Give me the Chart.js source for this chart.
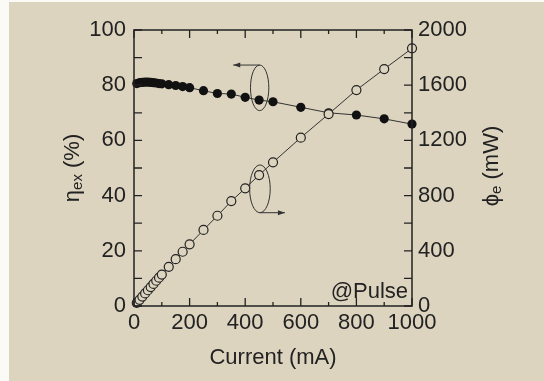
<!DOCTYPE html>
<html><head><meta charset="utf-8">
<script src="https://cdn.jsdelivr.net/npm/chart.js@4/dist/chart.umd.min.js"></script>
<style>html,body{margin:0;padding:0;background:#fff;}#wrap{position:absolute;left:0;top:0;width:544px;height:381px;}</style>
</head><body><div id="wrap"><canvas id="c" width="544" height="381"></canvas></div>
<script>
// ---- data ----
const currents = [10,20,30,40,50,60,70,80,90,100,125,150,175,200,250,300,350,400,450,500,600,700,800,900,1000];
const efficiency = [80.6,80.9,81.0,81.1,81.1,81.0,80.9,80.8,80.6,80.5,80.2,79.9,79.5,79.1,78.0,77.0,76.8,75.6,74.6,74.0,72.0,70.0,69.2,67.8,65.9];
const powerMW = [22,45,68,91,114,137,160,183,205,228,284,339,393,447,551,654,760,853,949,1041,1220,1391,1565,1717,1867];
const xTicks = [0,200,400,600,800,1000];
const leftTicks = [0,20,40,60,80,100];
const rightTicks = [0,400,800,1200,1600,2000];
const xMinorTicks = [100,300,500,700,900];
const leftMinorTicks = [10,30,50,70,90];
const noteText = '@Pulse';
// annotation guides (data units: mA, % on left scale)
const guideLeft = {x:452, yLow:70.8, yHigh:87.3, halfW:33, arrowTo:357};
const guideRight = {x:453, yLow:33.8, yHigh:51.1, halfW:37, arrowTo:543};

const BG = '#dcd4bf';
const INK = '#222';
const FONT = '"Liberation Sans", Arial, sans-serif';

function drawTitle(ctx, cx, cy, parts){
  ctx.save();
  ctx.translate(cx, cy);
  ctx.rotate(-Math.PI/2);
  let w = 0;
  parts.forEach(p => { ctx.font = p.size + 'px ' + FONT; p.w = ctx.measureText(p.t).width; w += p.w; });
  let x = -w/2;
  ctx.fillStyle = INK;
  ctx.textBaseline = 'middle';
  ctx.textAlign = 'left';
  parts.forEach(p => { ctx.font = p.size + 'px ' + FONT; ctx.fillText(p.t, x, p.dy); x += p.w; });
  ctx.restore();
}

const deco = {
  id: 'deco',
  beforeDraw(chart){
    const ctx = chart.ctx;
    ctx.save();
    ctx.fillStyle = '#fbfaf7';
    ctx.fillRect(0,0,chart.width,chart.height);
    ctx.fillStyle = BG;
    ctx.fillRect(9,2,chart.width-9,chart.height-2);
    ctx.restore();
  },
  afterDraw(chart){
    const ctx = chart.ctx;
    const a = chart.chartArea;
    const xs = chart.scales.x, yl = chart.scales.y;
    ctx.save();
    ctx.strokeStyle = INK;
    ctx.lineWidth = 1.5;
    ctx.strokeRect(a.left, a.top, a.right - a.left, a.bottom - a.top);
    ctx.lineWidth = 1.3;
    ctx.beginPath();
    const tick = (vals, len, horiz) => {
      vals.forEach(v => {
        if (horiz) {
          const px = xs.getPixelForValue(v);
          ctx.moveTo(px, a.bottom); ctx.lineTo(px, a.bottom - len);
          ctx.moveTo(px, a.top); ctx.lineTo(px, a.top + len);
        } else {
          const py = yl.getPixelForValue(v);
          ctx.moveTo(a.left, py); ctx.lineTo(a.left + len, py);
          ctx.moveTo(a.right, py); ctx.lineTo(a.right - len, py);
        }
      });
    };
    tick(xTicks, 8, true); tick(xMinorTicks, 4, true);
    tick(leftTicks, 8, false); tick(leftMinorTicks, 8, false);
    ctx.stroke();

    // guides
    ctx.lineWidth = 1;
    ctx.strokeStyle = '#333';
    ctx.fillStyle = '#333';
    [[guideLeft, -1], [guideRight, 1]].forEach(([g, dir]) => {
      const cx = xs.getPixelForValue(g.x);
      const yT = yl.getPixelForValue(g.yHigh), yB = yl.getPixelForValue(g.yLow);
      const rx = Math.abs(xs.getPixelForValue(g.x + g.halfW) - cx);
      ctx.beginPath();
      ctx.ellipse(cx, (yT+yB)/2, rx, (yB-yT)/2, 0, 0, Math.PI*2);
      ctx.stroke();
      const ay = dir < 0 ? yT : yB;
      const ax = xs.getPixelForValue(g.arrowTo);
      ctx.beginPath();
      ctx.moveTo(cx, ay); ctx.lineTo(ax, ay); ctx.stroke();
      ctx.beginPath();
      ctx.moveTo(ax, ay);
      ctx.lineTo(ax - dir*7, ay - 2.5);
      ctx.lineTo(ax - dir*7, ay + 2.5);
      ctx.closePath(); ctx.fill();
    });

    // note
    ctx.fillStyle = INK;
    ctx.font = '22px ' + FONT;
    ctx.textAlign = 'right';
    ctx.textBaseline = 'alphabetic';
    ctx.fillText(noteText, a.right - 4, a.bottom - 8);

    // axis titles
    drawTitle(ctx, 73, (a.top+a.bottom)/2, [
      {t:'\u03B7', size:22, dy:0}, {t:'ex', size:15, dy:5}, {t:' (%)', size:22, dy:0}]);
    drawTitle(ctx, 492, (a.top+a.bottom)/2 - 2, [
      {t:'\u03D5', size:22, dy:0}, {t:'e', size:15, dy:5}, {t:' (mW)', size:22, dy:0}]);
    ctx.font = '22px ' + FONT;
    ctx.textAlign = 'center';
    ctx.textBaseline = 'middle';
    ctx.fillText('Current (mA)', (a.left+a.right)/2, 358);
    ctx.restore();
  }
};

const tickFont = {family: FONT, size: 22};
const plain = v => String(v);
new Chart(document.getElementById('c'), {
  type: 'line',
  data: {
    datasets: [
      {
        label: 'Output power',
        data: currents.map((c,i) => ({x:c, y:powerMW[i]})),
        yAxisID: 'y2',
        borderColor: '#333', borderWidth: 1,
        pointRadius: 4.5, pointBorderWidth: 1.2,
        pointBackgroundColor: BG, pointBorderColor: '#222',
        clip: false, tension: 0
      },
      {
        label: 'External efficiency',
        data: currents.map((c,i) => ({x:c, y:efficiency[i]})),
        yAxisID: 'y',
        borderColor: '#333', borderWidth: 1,
        pointRadius: 4.6, pointBorderWidth: 0,
        pointBackgroundColor: '#111', pointBorderColor: '#111',
        clip: false, tension: 0
      }
    ]
  },
  options: {
    responsive: false,
    animation: false,
    devicePixelRatio: 1,
    layout: {padding: {top: 30, left: 0, right: 0, bottom: 0}},
    plugins: {legend: {display: false}, tooltip: {enabled: false}},
    scales: {
      x: {
        type: 'linear', min: 0, max: 1000,
        afterBuildTicks: s => { s.ticks = xTicks.map(v => ({value: v})); },
        afterFit: s => { s.height = 75; },
        grid: {display: false, drawTicks: false},
        border: {display: false},
        ticks: {font: tickFont, color: INK, padding: 4, maxRotation: 0, autoSkip: false, callback: plain}
      },
      y: {
        position: 'left', min: 0, max: 100,
        afterBuildTicks: s => { s.ticks = leftTicks.map(v => ({value: v})); },
        afterFit: s => { s.width = 134; },
        grid: {display: false, drawTicks: false},
        border: {display: false},
        ticks: {font: tickFont, color: INK, padding: 8, callback: plain}
      },
      y2: {
        position: 'right', min: 0, max: 2000,
        afterBuildTicks: s => { s.ticks = rightTicks.map(v => ({value: v})); },
        afterFit: s => { s.width = 132; },
        grid: {display: false, drawTicks: false},
        border: {display: false},
        ticks: {font: tickFont, color: INK, padding: 6, callback: plain}
      }
    }
  },
  plugins: [deco]
});
</script></body></html>
